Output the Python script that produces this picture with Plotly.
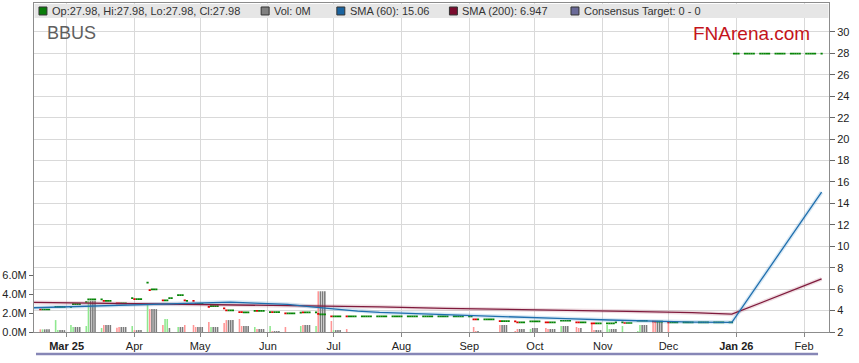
import pandas as pd
import plotly.graph_objects as go

# ---------------- data ----------------
first_week = "2025-02-17"  # Monday of first data week; each row = Mon..Fri

weekly_volume_m = [
    [0.28, 0.28, 0.28, 0.28, 0.28],   # Feb 17
    [1.26, 0.20, 0.20, 0.20, 0.20],   # Feb 24
    [0.74, 0.53, 0.53, 0.53, 0.53],   # Mar 3
    [0.63, 3.30, 3.30, 3.30, 3.30],   # Mar 10
    [0.42, 0.74, 0.74, 0.74, 0.74],   # Mar 17
    [0.46, 0.53, 0.53, 0.53, 0.53],   # Mar 24
    [0.63, 0.20, 0.20, 0.20, 0.20],   # Mar 31
    [2.84, 2.42, 2.42, 2.42, 2.42],   # Apr 7
    [0.74, 1.37, 1.37, 0.42, 0.00],   # Apr 14
    [0.53, 0.53, 0.53, 0.74, 0.00],   # Apr 21
    [0.74, 0.53, 0.53, 0.53, 0.53],   # Apr 28
    [1.05, 0.53, 0.53, 0.53, 0.53],   # May 5
    [0.95, 1.26, 1.26, 1.26, 1.26],   # May 12
    [1.37, 0.63, 0.63, 0.63, 0.63],   # May 19
    [0.53, 0.32, 0.32, 0.32, 0.32],   # May 26
    [0.63, 0.10, 0.10, 0.10, 0.10],   # Jun 2
    [0.53, 0.00, 0.00, 0.00, 0.00],   # Jun 9
    [0.63, 0.74, 0.74, 0.74, 0.74],   # Jun 16
    [0.63, 4.30, 4.30, 4.30, 4.30],   # Jun 23
    [1.16, 0.20, 0.20, 0.20, 0.20],   # Jun 30
    [0.32, 0.00, 0.00, 0.00, 0.00],   # Jul 7
    [0.00, 0.00, 0.00, 0.00, 0.00],   # Jul 14
    [0.00, 0.00, 0.00, 0.00, 0.00],   # Jul 21
    [0.00, 0.00, 0.00, 0.00, 0.00],   # Jul 28
    [0.00, 0.00, 0.00, 0.00, 0.00],   # Aug 4
    [0.00, 0.00, 0.00, 0.00, 0.00],   # Aug 11
    [0.00, 0.00, 0.00, 0.00, 0.00],   # Aug 18
    [0.00, 0.00, 0.00, 0.00, 0.00],   # Aug 25
    [0.00, 0.00, 0.53, 0.10, 0.10],   # Sep 1
    [0.00, 0.00, 0.00, 0.00, 0.00],   # Sep 8
    [0.74, 0.74, 0.74, 0.74, 0.00],   # Sep 15
    [0.10, 0.32, 0.32, 0.32, 0.32],   # Sep 22
    [0.32, 0.42, 0.42, 0.42, 0.00],   # Sep 29
    [0.42, 0.32, 0.32, 0.32, 0.32],   # Oct 6
    [0.63, 0.63, 0.63, 0.63, 0.00],   # Oct 13
    [0.53, 0.42, 0.42, 0.00, 0.00],   # Oct 20
    [0.95, 0.20, 0.20, 0.20, 0.20],   # Oct 27
    [0.74, 0.32, 0.32, 0.32, 0.32],   # Nov 3
    [0.63, 0.00, 0.00, 0.00, 0.00],   # Nov 10
    [0.10, 0.74, 0.74, 0.74, 0.74],   # Nov 17
    [0.95, 1.16, 1.16, 1.16, 1.16],   # Nov 24
    [1.16, 0.00, 0.00, 0.00, 0.00],   # Dec 1
    [0.00, 0.00, 0.00, 0.00, 0.00],   # Dec 8
    [0.00, 0.00, 0.00, 0.00, 0.00],   # Dec 15
    [0.00, 0.00, 0.00, 0.00, 0.00],   # Dec 22
    [0.00, 0.00, 0.00, 0.00, 0.00],   # Dec 29
    [0.00, 0.00, 0.00, 0.00, 0.00],   # Jan 5
    [0.00, 0.00, 0.00, 0.00, 0.00],   # Jan 12
    [0.00, 0.00, 0.00, 0.00, 0.00],   # Jan 19
    [0.00, 0.00, 0.00, 0.00, 0.00],   # Jan 26
    [0.00, 0.00, 0.00, 0.00, 0.00],   # Feb 2
    [0.00],                           # Feb 9
]

# u = up day (green), d = down day (red), n = unchanged (grey volume, green price)
weekly_codes = [
    "dunnn", "uunnn", "uunnn", "uunnn", "udnnn", "ddnnn", "udnnn", "udnnn",
    "duunn", "unndn", "ddnnn", "dunnn", "ddnnn", "ddnnn", "udnnn", "udnnn",
    "dnnnn", "udnnn", "udnnn", "dunnn", "dnnnn", "nnnnn", "nnnnn", "nnnnn",
    "nnnnn", "nnnnn", "nnnnn", "nnnnn", "nnddn", "nnnnn", "dnnnn", "ddnnn",
    "unnnn", "ddnnn", "unnnn", "ddnnn", "ddnnn", "uunnn", "udnnn", "uunnn",
    "ddnnn", "dnnnn", "nnnnn", "nnnnn", "nnnnn", "nnunn", "nnnnn", "nnnnn",
    "nnnnn", "nnnnn", "nnnnn", "n",
]

weekly_close = [
    [4.10, 4.10, 4.10, 4.10, 4.10],
    [4.35, 4.35, 4.35, 4.35, 4.35],
    [4.35, 4.60, 4.60, 4.60, 4.60],
    [4.80, 5.04, 5.04, 5.04, 5.04],
    [5.04, 4.90, 4.90, 4.90, 4.90],
    [4.67, 4.67, 4.67, 4.67, 4.67],
    [5.16, 5.07, 5.07, 5.07, 5.07],
    [6.60, 5.90, 5.97, 5.97, 5.97],
    [4.95, 4.95, 4.95, 5.16, 5.16],
    [5.44, 5.44, 5.44, 4.95, 4.90],
    [4.90, 4.63, 4.63, 4.63, 4.63],
    [4.35, 4.42, 4.42, 4.42, 4.42],
    [4.20, 4.02, 4.02, 4.02, 4.02],
    [3.86, 3.86, 3.83, 3.83, 3.83],
    [3.98, 3.98, 3.98, 3.98, 3.98],
    [3.86, 3.86, 3.86, 3.86, 3.86],
    [3.74, 3.74, 3.74, 3.74, 3.74],
    [3.80, 3.83, 3.83, 3.83, 3.83],
    [3.83, 3.70, 3.64, 3.64, 3.64],
    [3.46, 3.46, 3.46, 3.46, 3.46],
    [3.46, 3.46, 3.46, 3.46, 3.46],
    [3.46, 3.46, 3.46, 3.46, 3.46],
    [3.46, 3.46, 3.46, 3.46, 3.46],
    [3.46, 3.46, 3.46, 3.46, 3.46],
    [3.46, 3.46, 3.46, 3.46, 3.46],
    [3.46, 3.46, 3.46, 3.46, 3.46],
    [3.46, 3.46, 3.46, 3.46, 3.46],
    [3.46, 3.46, 3.46, 3.46, 3.46],
    [3.46, 3.46, 3.18, 3.18, 3.18],
    [3.18, 3.18, 3.18, 3.18, 3.18],
    [3.02, 3.02, 3.02, 3.02, 3.02],
    [3.00, 2.90, 2.90, 2.90, 2.90],
    [3.00, 3.00, 3.00, 3.00, 3.00],
    [2.90, 2.90, 2.90, 2.90, 2.90],
    [3.05, 3.05, 3.05, 3.05, 3.05],
    [2.90, 2.90, 2.90, 2.90, 2.90],
    [2.81, 2.81, 2.81, 2.81, 2.81],
    [2.81, 2.81, 2.81, 2.81, 2.90],
    [2.90, 2.84, 2.84, 2.84, 2.84],
    [3.05, 3.05, 3.05, 3.05, 3.05],
    [2.97, 2.97, 2.97, 2.97, 2.97],
    [2.90, 2.90, 2.90, 2.90, 2.90],
    [2.90, 2.90, 2.90, 2.90, 2.90],
    [2.90, 2.90, 2.90, 2.90, 2.90],
    [2.90, 2.90, 2.90, 2.90, 2.90],
    [2.90, 2.90, 27.98, 27.98, 27.98],
    [27.98, 27.98, 27.98, 27.98, 27.98],
    [27.98, 27.98, 27.98, 27.98, 27.98],
    [27.98, 27.98, 27.98, 27.98, 27.98],
    [27.98, 27.98, 27.98, 27.98, 27.98],
    [27.98, 27.98, 27.98, 27.98, 27.98],
    [27.98],
]

sma60_dates = ["2025-02-14", "2025-04-01", "2025-05-05", "2025-05-15", "2025-05-26",
               "2025-06-10", "2025-06-21", "2025-07-02", "2025-07-12", "2025-07-22",
               "2025-08-03", "2025-08-21", "2025-09-08", "2025-09-28", "2025-10-15",
               "2025-11-04", "2025-11-19", "2025-12-12", "2025-12-30", "2026-02-09"]
sma60_values = [4.26, 4.52, 4.72, 4.79, 4.70, 4.58, 4.35, 4.14, 3.95, 3.83,
                3.74, 3.61, 3.49, 3.33, 3.24, 3.12, 3.02, 2.93, 2.90, 15.06]

sma200_dates = ["2025-02-14", "2025-03-20", "2025-05-05", "2025-06-02", "2025-06-22",
                "2025-07-22", "2025-08-21", "2025-09-25", "2025-10-15", "2025-11-12",
                "2025-12-12", "2025-12-30", "2026-02-09"]
sma200_values = [4.76, 4.68, 4.60, 4.51, 4.42, 4.35, 4.20, 4.11, 4.05, 3.93,
                 3.80, 3.66, 6.947]

month_ticks = ["2025-03-01", "2025-04-01", "2025-05-01", "2025-06-01", "2025-07-01",
               "2025-08-01", "2025-09-01", "2025-10-01", "2025-11-01", "2025-12-01",
               "2026-01-01", "2026-02-01"]
month_labels = ["<b>Mar 25</b>", "Apr", "May", "Jun", "Jul", "Aug", "Sep", "Oct",
                "Nov", "Dec", "<b>Jan 26</b>", "Feb"]

price_ticks = [2, 4, 6, 8, 10, 12, 14, 16, 18, 20, 22, 24, 26, 28, 30]
volume_ticks_m = [0, 2, 4, 6]
volume_labels = ["0.0M", "2.0M", "4.0M", "6.0M"]

legend_items = [
    ("#0a7d0a", "Op:27.98, Hi:27.98, Lo:27.98, Cl:27.98"),
    ("#808080", "Vol: 0M"),
    ("#1a64a0", "SMA (60): 15.06"),
    ("#7a0c2e", "SMA (200): 6.947"),
    ("#6a6a98", "Consensus Target: 0 - 0"),
]

# ---------------- flatten daily data ----------------
week_starts = pd.date_range(first_week, periods=len(weekly_close), freq="7D")
dates, vols, codes, closes = [], [], [], []
for ws, wv, wc, wp in zip(week_starts, weekly_volume_m, weekly_codes, weekly_close):
    for i, (v, c, p) in enumerate(zip(wv, wc, wp)):
        dates.append(ws + pd.Timedelta(days=i))
        vols.append(v * 1e6)
        codes.append(c)
        closes.append(p)

vol_color = {"u": "#8fe88f", "d": "#ff9696", "n": "#7c7c7c"}
bar_colors = [vol_color[c] for c in codes]

green_idx = [i for i, c in enumerate(codes) if c != "d"]
red_idx = [i for i, c in enumerate(codes) if c == "d"]

FONT = "Liberation Sans, Arial, sans-serif"
fig = go.Figure()

# base subplot (grid + right price axis)
fig.add_trace(go.Scatter(x=[dates[0]], y=[None], mode="lines", showlegend=False,
                         hoverinfo="skip", yaxis="y"))

# volume
fig.add_trace(go.Bar(x=dates, y=vols, marker=dict(color=bar_colors, line=dict(width=0)),
                     width=0.72 * 86400000, yaxis="y2", showlegend=False, hoverinfo="skip"))

# SMA halos + lines
fig.add_trace(go.Scatter(x=sma200_dates, y=sma200_values, mode="lines", yaxis="y3",
                         line=dict(color="rgba(160,60,90,0.18)", width=4), showlegend=False,
                         hoverinfo="skip"))
fig.add_trace(go.Scatter(x=sma60_dates, y=sma60_values, mode="lines", yaxis="y3",
                         line=dict(color="rgba(60,140,200,0.2)", width=4), showlegend=False,
                         hoverinfo="skip"))
fig.add_trace(go.Scatter(x=sma200_dates, y=sma200_values, mode="lines", yaxis="y3",
                         line=dict(color="#7f1a3c", width=1.3), showlegend=False,
                         hoverinfo="skip"))
fig.add_trace(go.Scatter(x=sma60_dates, y=sma60_values, mode="lines", yaxis="y3",
                         line=dict(color="#1f6fae", width=1.3), showlegend=False,
                         hoverinfo="skip"))

# price (OHLC with open=high=low=close -> horizontal dashes)
for idx, col in ((green_idx, "#068406"), (red_idx, "#e00000")):
    xs = [dates[i] for i in idx]
    ps = [closes[i] for i in idx]
    fig.add_trace(go.Ohlc(x=xs, open=ps, high=ps, low=ps, close=ps, yaxis="y3",
                          increasing=dict(line=dict(color=col, width=1.7)),
                          decreasing=dict(line=dict(color=col, width=1.7)),
                          tickwidth=0.5, showlegend=False, hoverinfo="skip"))

# ---------------- layout ----------------
L, R, T, B = 31, 829, 2, 332
W, H = 859, 363


def px_x(px):
    return (px - L) / (R - L)


def px_y(py):
    return (B - py) / (B - T)


price_range = [2, 2 + (B - T) / 10.75]
vol_range = [0, (B - T) / 9.5 * 1e6]

shapes = [
    dict(type="rect", xref="paper", yref="paper", x0=px_x(31.5), x1=px_x(828.5),
         y0=px_y(17), y1=px_y(3), fillcolor="#e6e6e6", line=dict(width=0), layer="above"),
    dict(type="line", xref="paper", yref="paper", x0=px_x(33), x1=px_x(818),
         y0=px_y(354), y1=px_y(354), line=dict(color="#8686b6", width=2.5)),
]
annotations = []
legend_x = [36, 259, 335, 448, 570]
for (col, txt), lx in zip(legend_items, legend_x):
    shapes.append(dict(type="rect", xref="paper", yref="paper", x0=px_x(lx), x1=px_x(lx + 8),
                       y0=px_y(14), y1=px_y(6), fillcolor=col,
                       line=dict(color="#333333", width=1), layer="above"))
    annotations.append(dict(xref="paper", yref="paper", x=px_x(lx + 11), y=px_y(10.5),
                            xanchor="left", yanchor="middle", showarrow=False, text=txt,
                            font=dict(family=FONT, size=11, color="#333333")))

annotations.append(dict(xref="paper", yref="paper", x=px_x(42), y=px_y(32.5),
                        xanchor="left", yanchor="middle", showarrow=False, text="BBUS",
                        font=dict(family=FONT, size=18, color="#5f5f5f")))
annotations.append(dict(xref="paper", yref="paper", x=px_x(690), y=px_y(32.5),
                        xanchor="left", yanchor="middle", showarrow=False, text="FNArena.com",
                        font=dict(family=FONT, size=19, color="#c4141c")))

fig.update_layout(
    width=W, height=H,
    margin=dict(l=L, r=W - R, t=T, b=H - B, pad=0),
    paper_bgcolor="white", plot_bgcolor="white",
    showlegend=False,
    hovermode=False,
    font=dict(family=FONT, size=11, color="#222222"),
    xaxis=dict(type="date", range=["2025-02-14 02:44", "2026-02-12 09:07"],
               tickvals=month_ticks, ticktext=month_labels,
               showgrid=True, gridcolor="#d9d9d9", gridwidth=1,
               ticks="outside", ticklen=4, tickcolor="#888888",
               showline=True, linecolor="#8c8c8c", linewidth=1, mirror=True,
               tickfont=dict(family=FONT, size=11, color="#222222"),
               rangeslider=dict(visible=False), zeroline=False),
    yaxis=dict(side="right", range=price_range, tickvals=price_ticks,
               showgrid=True, gridcolor="#d9d9d9", gridwidth=1,
               ticks="outside", ticklen=5, tickcolor="#666666",
               showline=True, linecolor="#8c8c8c", linewidth=1, mirror=True,
               zeroline=False, tickfont=dict(family=FONT, size=11, color="#222222")),
    yaxis2=dict(overlaying="y", side="left", range=vol_range,
                tickvals=[v * 1e6 for v in volume_ticks_m], ticktext=volume_labels,
                showgrid=False, zeroline=False, showline=False,
                ticks="outside", ticklen=4, tickcolor="#666666",
                tickfont=dict(family=FONT, size=11, color="#222222")),
    yaxis3=dict(overlaying="y", side="right", range=price_range, visible=False,
                showgrid=False, zeroline=False),
    shapes=shapes,
    annotations=annotations,
)

fig.write_html(
    "out.html",
    config={"displayModeBar": False, "staticPlot": True},
    post_script="document.body.style.margin='0';document.body.style.overflow='hidden';",
)
